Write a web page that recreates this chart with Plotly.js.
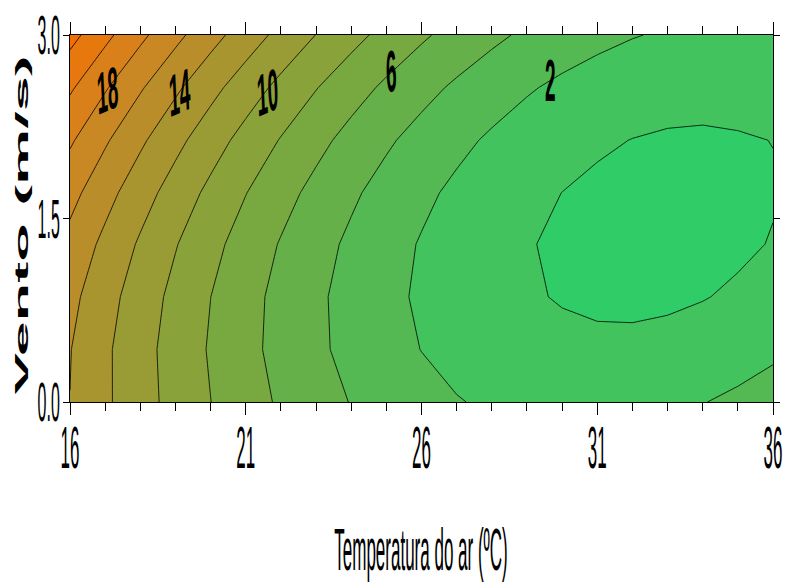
<!DOCTYPE html>
<html>
<head>
<meta charset="utf-8">
<script src="https://cdn.plot.ly/plotly-3.0.1.min.js"></script>
<style>
  html, body { margin: 0; padding: 0; background: #fff; }
  #chart { width: 786px; height: 585px; }
</style>
</head>
<body>
<div id="chart"></div>
<script>
// Air temperature (°C) – columns
const temperatura = [16,17,18,19,20,21,22,23,24,25,26,27,28,29,30,31,32,33,34,35,36];
// Wind speed (m/s) – rows
const vento = [0, 0.43, 0.86, 1.29, 1.71, 2.14, 2.57, 3.0];
// Response values (one row per wind speed)
const z_v0   = [13.98,12.32,10.77,9.33,8.02,6.82,5.74,4.78,3.93,3.21,2.60,2.10,1.73,1.47,1.33,1.30,1.40,1.61,1.94,2.38,2.95];
const z_v043 = [14.07,12.33,10.71,9.21,7.82,6.55,5.40,4.37,3.45,2.65,1.97,1.40,0.96,0.63,0.41,0.32,0.34,0.48,0.74,1.11,1.61];
const z_v086 = [14.54,12.73,11.04,9.47,8.01,6.67,5.44,4.34,3.35,2.48,1.73,1.09,0.57,0.17,-0.11,-0.28,-0.33,-0.26,-0.07,0.23,0.65];
const z_v129 = [15.40,13.52,11.75,10.11,8.58,7.17,5.87,4.70,3.64,2.69,1.87,1.16,0.57,0.10,-0.26,-0.49,-0.62,-0.62,-0.50,-0.27,0.08];
const z_v171 = [16.64,14.69,12.85,11.14,9.53,8.05,6.69,5.44,4.31,3.29,2.40,1.62,0.96,0.41,-0.01,-0.32,-0.52,-0.59,-0.55,-0.39,-0.11];
const z_v214 = [18.27,16.25,14.34,12.55,10.88,9.32,7.89,6.57,5.36,4.28,3.31,2.46,1.73,1.11,0.61,0.23,-0.03,-0.18,-0.21,-0.12,0.02];
const z_v257 = [20.28,18.19,16.21,14.35,12.60,10.98,9.47,8.08,6.80,5.65,4.61,3.69,2.88,2.19,1.62,1.17,0.84,0.62,0.52,0.54,0.67];
const z_v300 = [22.68,20.51,18.46,16.53,14.72,13.02,11.44,9.97,8.63,7.40,6.29,5.30,4.42,3.66,3.02,2.50,2.09,1.80,1.63,1.58,1.64];
// Tick labels
const xTickVals = [16,21,26,31,36];
const yTickVals = [0, 1.5, 3];
const yTickText = ['0.0','1.5','3.0'];
// Contour labels shown on the map
const labelText = ['18','14','10','6','2'];

const zGrid = [z_v0, z_v043, z_v086, z_v129, z_v171, z_v214, z_v257, z_v300];

const labelPos = [[17.08,2.55,-8],[19.13,2.53,-8],[21.63,2.53,-8],[25.16,2.70,-5],[29.68,2.63,0]];

const trace = {
  type: 'contour',
  x: temperatura,
  y: vento,
  z: zGrid,
  showscale: false,
  colorscale: [
    [0, '#2fcc68'], [1/12, '#42c35d'], [2/12, '#54b953'], [3/12, '#66b049'],
    [4/12, '#78a940'], [5/12, '#89a239'], [6/12, '#999c34'], [7/12, '#a99530'],
    [8/12, '#b98e2a'], [9/12, '#c98824'], [10/12, '#d9801a'], [11/12, '#e7780e'],
    [1, '#f56e00']
  ],
  contours: { start: 0, end: 22, size: 2, coloring: 'fill', showlabels: false },
  line: { color: '#000', width: 0.8, smoothing: 0 },
  hoverinfo: 'skip'
};

const tickFont = { family: 'Liberation Sans, Arial, sans-serif', size: 17, color: '#000' };

const layout = {
  width: 786, height: 585,
  margin: { l: 70, r: 13, t: 35, b: 183 },
  paper_bgcolor: '#fff', plot_bgcolor: '#fff',
  showlegend: false,
  xaxis: {
    range: [16, 36], tickvals: xTickVals, ticks: 'outside', ticklen: 12, tickwidth: 1,
    tickcolor: '#000', showline: true, linecolor: '#000', linewidth: 1, mirror: 'allticks',
    showgrid: false, zeroline: false,
    minor: { dtick: 1, ticks: 'outside', ticklen: 8, tickcolor: '#000', tickwidth: 1, showgrid: false },
    tickfont: tickFont,
    title: { text: 'Temperatura do ar (ºC)', font: { family: 'Liberation Sans, Arial, sans-serif', size: 17, color: '#000' } }
  },
  yaxis: {
    range: [0, 3], tickvals: yTickVals, ticktext: yTickText, ticks: 'outside', ticklen: 6, tickwidth: 1,
    tickcolor: '#000', showline: true, linecolor: '#000', linewidth: 1, mirror: 'allticks',
    showgrid: false, zeroline: false,
    tickfont: { family: 'Liberation Sans, Arial, sans-serif', size: 16, color: '#000' },
    title: { text: 'Vento (m/s)', font: { family: 'Liberation Sans, Arial, sans-serif', size: 18, color: '#000', weight: 'bold' } }
  },
  annotations: labelText.map((t, i) => ({
    x: labelPos[i][0], y: labelPos[i][1], xref: 'x', yref: 'y', text: t, showarrow: false,
    textangle: labelPos[i][2],
    font: { family: 'Liberation Sans, Arial, sans-serif', size: 19, color: '#000', weight: 'bold' }
  }))
};

function stretch(el, s, tx, ty) {
  const r = el.getBoundingClientRect();
  const cx = r.left + r.width / 2, cy = r.top + r.height / 2;
  const svg = el.ownerSVGElement;
  const M = el.parentNode.getScreenCTM().inverse();
  const p = svg.createSVGPoint(); p.x = cx; p.y = cy;
  const q = p.matrixTransform(M);
  const dx = (tx == null) ? 0 : tx - cx;
  const dy = (ty == null) ? 0 : ty - cy;
  const old = el.getAttribute('transform') || '';
  el.setAttribute('transform',
    'translate(' + dx + ',' + dy + ') translate(0,' + q.y + ') scale(1,' + s + ') translate(0,' + (-q.y) + ') ' + old);
}

Plotly.newPlot('chart', [trace], layout, { staticPlot: true, displayModeBar: false }).then(function (gd) {
  gd.querySelectorAll('.xtick text').forEach(el => stretch(el, 3.45, null, 449));
  gd.querySelectorAll('.ytick text').forEach(el => stretch(el, 3.45, null, null));
  gd.querySelectorAll('.g-xtitle text').forEach(el => stretch(el, 3.5, 421, 551));
  gd.querySelectorAll('.g-ytitle text').forEach(el => stretch(el, 3.5, 22, 225));
  gd.querySelectorAll('.annotation-text-g').forEach(el => stretch(el, 3.1, null, null));
});
</script>
</body>
</html>
